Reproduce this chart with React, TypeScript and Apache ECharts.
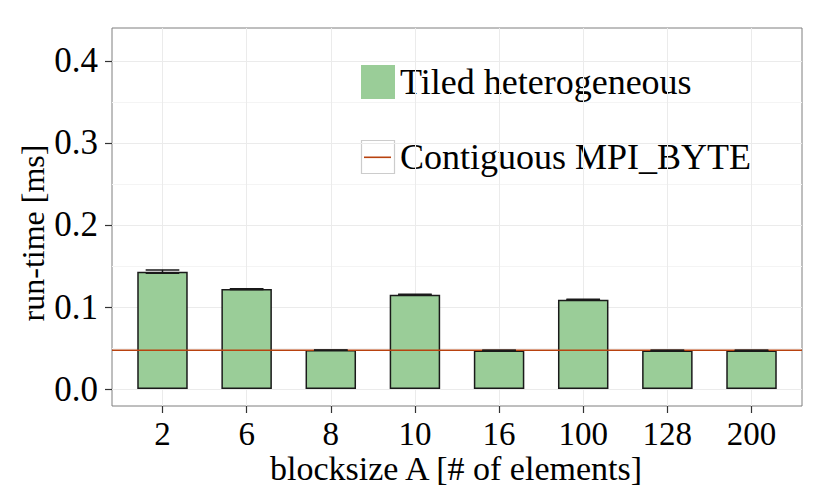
import React, { useEffect, useRef } from "react";
import * as echarts from "echarts";

const categories = ["2", "6", "8", "10", "16", "100", "128", "200"];
const runTime = [0.1431, 0.1219, 0.0475, 0.115, 0.0471, 0.1089, 0.0471, 0.0471];
const errLow = [0.1413, 0.1215, 0.0473, 0.1144, 0.0469, 0.1084, 0.0469, 0.0469];
const errHigh = [0.1452, 0.1223, 0.0477, 0.1156, 0.0473, 0.1094, 0.0473, 0.0473];
const contiguousByte = 0.0472;
const yTicks = [0, 0.1, 0.2, 0.3, 0.4];
const yMinorTicks = [0.05, 0.15, 0.25, 0.35];

const FONT = "'Liberation Serif', 'Times New Roman', serif";
const GREEN = "#9acd98";
const RED = "#b8420f";
const X_MIN = -0.6;
const X_MAX = 7.6;

export default function App() {
  const ref = useRef<HTMLDivElement>(null);
  useEffect(() => {
    document.body.style.margin = "0";
    const chart = echarts.init(ref.current!, null, { renderer: "svg" });
    const idx = categories.map((_, i) => i);
    chart.setOption({
      animation: false,
      backgroundColor: "#ffffff",
      grid: {
        left: 112,
        right: 28,
        top: 28,
        bottom: 92,
        show: true,
        backgroundColor: "#ffffff",
        borderColor: "#7f7f7f",
        borderWidth: 1,
      },
      xAxis: {
        type: "value",
        min: X_MIN,
        max: X_MAX,
        position: "bottom",
        axisLine: { show: false, onZero: false },
        axisTick: { show: true, customValues: idx, length: 7, lineStyle: { color: "#333333", width: 1.2 } },
        axisLabel: {
          customValues: idx,
          formatter: (v: number) => categories[Math.round(v)],
          fontFamily: FONT,
          fontSize: 33,
          color: "#000000",
          margin: 11,
        },
        splitLine: { show: true, lineStyle: { color: "#ebebeb", width: 1 } },
      },
      yAxis: [
        {
          type: "value",
          min: -0.0207,
          max: 0.4402,
          position: "left",
          axisLine: { show: false, onZero: false },
          axisTick: { show: true, customValues: yTicks, length: 7, lineStyle: { color: "#333333", width: 1.2 } },
          axisLabel: {
            customValues: yTicks,
            formatter: (v: number) => v.toFixed(1),
            fontFamily: FONT,
            fontSize: 35,
            color: "#000000",
            margin: 14,
          },
          splitLine: { show: true, lineStyle: { color: "#ebebeb", width: 1 } },
        },
        {
          type: "value",
          min: -0.0207,
          max: 0.4402,
          position: "left",
          axisLine: { show: false, onZero: false },
          axisTick: { show: false, customValues: yMinorTicks },
          axisLabel: { show: false, customValues: yMinorTicks },
          splitLine: { show: true, lineStyle: { color: "#f4f4f4", width: 1 } },
        },
      ],
      series: [
        {
          name: "Tiled heterogeneous",
          type: "bar",
          barWidth: "60%",
          data: runTime.map((v, i) => [i, v]),
          itemStyle: { color: GREEN, borderColor: "#1a1a1a", borderWidth: 1.5 },
        },
        {
          name: "Contiguous MPI_BYTE",
          type: "line",
          symbol: "none",
          silent: true,
          data: [
            [X_MIN, contiguousByte],
            [X_MAX, contiguousByte],
          ],
          lineStyle: { color: RED, width: 1.6 },
          z: 4,
        },
        {
          name: "error",
          type: "custom",
          data: idx.map((i) => [i, errLow[i], errHigh[i]]),
          renderItem: (params: any, api: any) => {
            const x = api.value(0);
            const lo = api.value(1);
            const hi = api.value(2);
            const a = api.coord([x - 0.2, hi]);
            const b = api.coord([x + 0.2, hi]);
            const c = api.coord([x - 0.2, lo]);
            const d = api.coord([x + 0.2, lo]);
            const m1 = api.coord([x, hi]);
            const m2 = api.coord([x, lo]);
            const style = { stroke: "#1a1a1a", lineWidth: 1.5 };
            return {
              type: "group",
              children: [
                { type: "line", shape: { x1: a[0], y1: a[1], x2: b[0], y2: b[1] }, style },
                { type: "line", shape: { x1: c[0], y1: c[1], x2: d[0], y2: d[1] }, style },
                { type: "line", shape: { x1: m1[0], y1: m1[1], x2: m2[0], y2: m2[1] }, style },
              ],
            };
          },
          z: 5,
        },
      ],
      graphic: [
        {
          type: "text",
          x: 33,
          y: 233,
          rotation: Math.PI / 2,
          style: {
            text: "run-time [ms]",
            fontFamily: FONT,
            fontSize: 32,
            fill: "#000000",
            align: "center",
            verticalAlign: "middle",
          },
        },
        {
          type: "text",
          x: 456,
          y: 468,
          style: {
            text: "blocksize A [# of elements]",
            fontFamily: FONT,
            fontSize: 34,
            fill: "#000000",
            align: "center",
            verticalAlign: "middle",
          },
        },
        {
          type: "rect",
          shape: { x: 361, y: 65, width: 34, height: 34 },
          style: { fill: GREEN },
        },
        {
          type: "text",
          x: 400,
          y: 82,
          style: {
            text: "Tiled heterogeneous",
            fontFamily: FONT,
            fontSize: 36,
            fill: "#000000",
            align: "left",
            verticalAlign: "middle",
          },
        },
        {
          type: "rect",
          shape: { x: 361.5, y: 140.5, width: 33, height: 33 },
          style: { fill: "#ffffff", stroke: "#cccccc", lineWidth: 1.2 },
        },
        {
          type: "line",
          shape: { x1: 364, y1: 157.3, x2: 391, y2: 157.3 },
          style: { stroke: RED, lineWidth: 1.6 },
        },
        {
          type: "text",
          x: 400,
          y: 157,
          style: {
            text: "Contiguous MPI_BYTE",
            fontFamily: FONT,
            fontSize: 36,
            fill: "#000000",
            align: "left",
            verticalAlign: "middle",
          },
        },
      ],
    });
    return () => chart.dispose();
  }, []);
  return <div ref={ref} style={{ width: 830, height: 498 }} />;
}
